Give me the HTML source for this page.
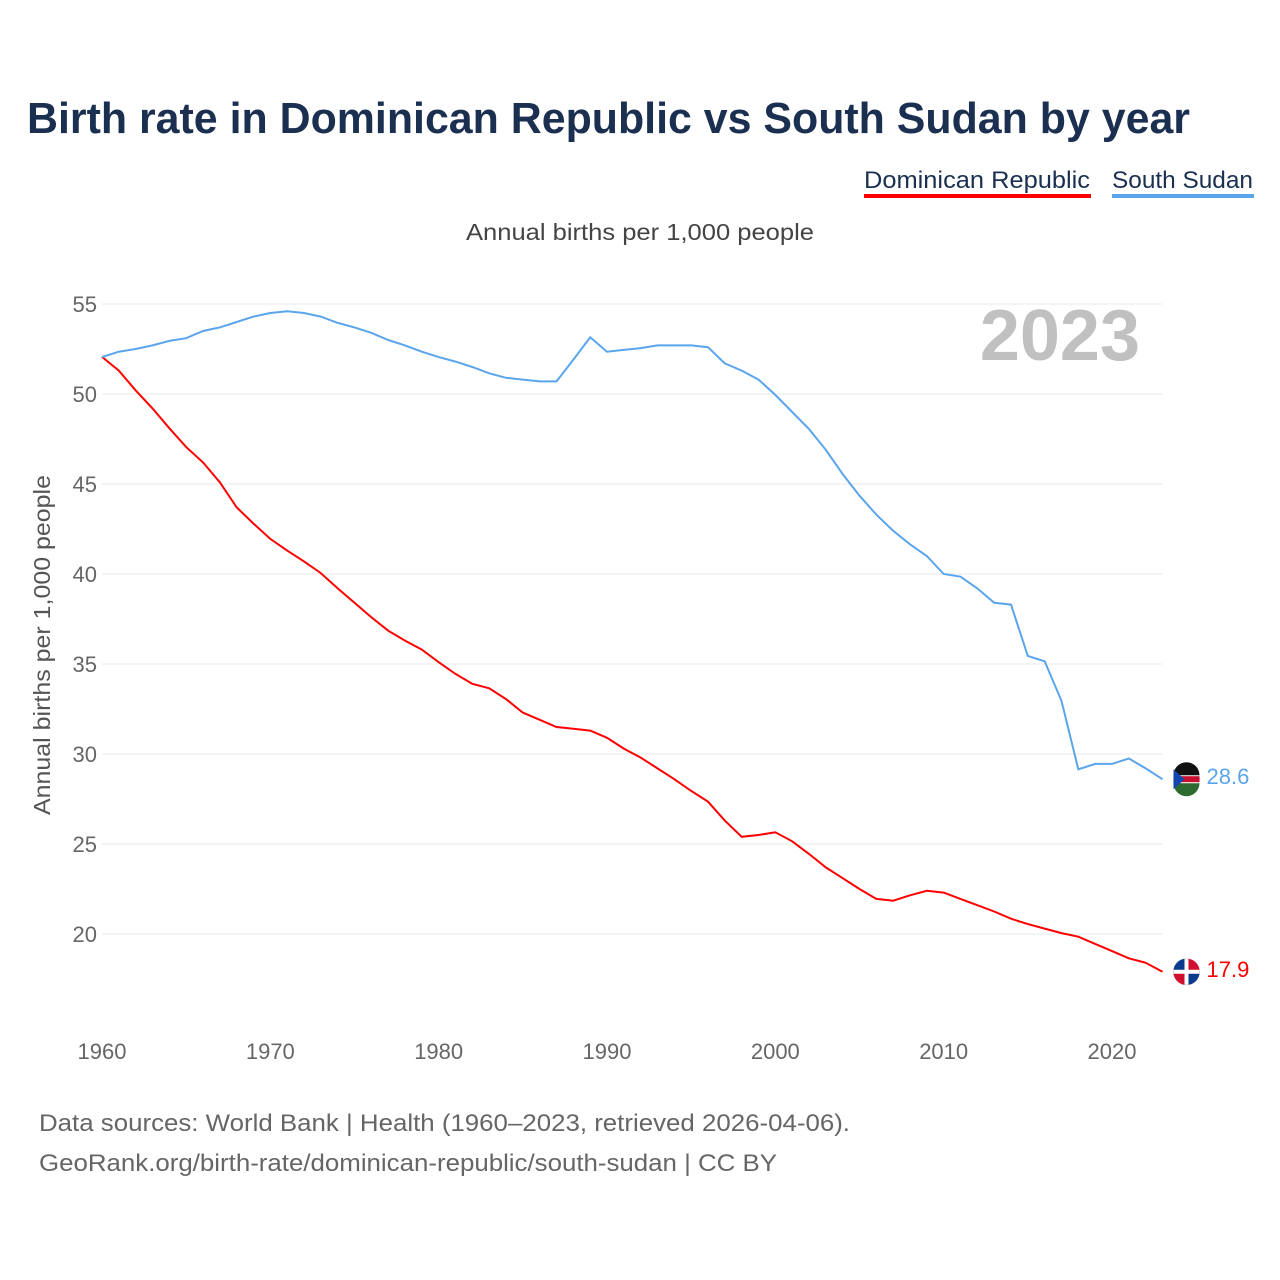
<!DOCTYPE html>
<html><head><meta charset="utf-8">
<style>
body{margin:0;background:#fff;font-family:"Liberation Sans",sans-serif;}
#wrap{position:relative;width:1280px;height:1280px;overflow:hidden;}
</style></head>
<body>
<div id="wrap">
<svg id="chart" width="1280" height="1280">
  <text x="27" y="133" font-size="44" font-weight="bold" fill="#1b3050" textLength="1163" lengthAdjust="spacingAndGlyphs">Birth rate in Dominican Republic vs South Sudan by year</text>
  <g>
    <text x="864" y="188" font-size="24" fill="#1b3050" textLength="226" lengthAdjust="spacingAndGlyphs">Dominican Republic</text>
    <rect x="864" y="194" width="227" height="4" fill="#ff0000"/>
  </g>
  <g>
    <text x="1112" y="188" font-size="24" fill="#1b3050" textLength="141" lengthAdjust="spacingAndGlyphs">South Sudan</text>
    <rect x="1112" y="194" width="142" height="4" fill="#5aa5ec"/>
  </g>
  <text x="466" y="240" font-size="23" fill="#444" textLength="348" lengthAdjust="spacingAndGlyphs">Annual births per 1,000 people</text>
  <text transform="translate(50,815) rotate(-90)" font-size="23" fill="#555" textLength="340" lengthAdjust="spacingAndGlyphs">Annual births per 1,000 people</text>
  <text x="1140" y="360" font-size="72" font-weight="bold" fill="#c0c0c0" text-anchor="end">2023</text>
  <g id="grid"></g><g id="lines"></g><g id="ticks"></g>
  <text x="39" y="1131" font-size="24" fill="#666" textLength="811" lengthAdjust="spacingAndGlyphs">Data sources: World Bank | Health (1960–2023, retrieved 2026-04-06).</text>
  <text x="39" y="1171" font-size="24" fill="#666" textLength="738" lengthAdjust="spacingAndGlyphs">GeoRank.org/birth-rate/dominican-republic/south-sudan | CC BY</text>
</svg>
</div>
<script>
const years = Array.from({length:64},(_,i)=>1960+i);
const dominican = [52.06,51.3,50.2,49.2,48.1,47.05,46.2,45.1,43.7,42.8,41.95,41.3,40.7,40.05,39.2,38.4,37.6,36.85,36.3,35.8,35.1,34.45,33.9,33.65,33.05,32.3,31.9,31.5,31.4,31.3,30.9,30.3,29.8,29.2,28.6,27.95,27.35,26.3,25.4,25.5,25.65,25.15,24.45,23.7,23.1,22.5,21.95,21.85,22.15,22.4,22.3,21.95,21.6,21.25,20.85,20.55,20.3,20.05,19.85,19.45,19.05,18.65,18.4,17.9];
const southSudan = [52.05,52.35,52.5,52.7,52.95,53.1,53.5,53.7,54.0,54.3,54.5,54.6,54.5,54.3,53.95,53.7,53.4,53.0,52.7,52.35,52.05,51.8,51.5,51.15,50.9,50.8,50.7,50.7,51.9,53.15,52.35,52.45,52.55,52.7,52.7,52.7,52.6,51.7,51.3,50.8,49.95,49.0,48.05,46.9,45.55,44.35,43.3,42.4,41.65,41.0,40.0,39.85,39.2,38.4,38.3,35.45,35.15,32.95,29.15,29.45,29.45,29.75,29.2,28.6];
const yTicks = [20,25,30,35,40,45,50,55];
const xTicks = [1960,1970,1980,1990,2000,2010,2020];
const NS="http://www.w3.org/2000/svg";
const xS = y => 102 + (y-1960)*(1010/60);
const yS = v => 304 + (55-v)*18;
function mk(tag,attrs,parent,txt){const e=document.createElementNS(NS,tag);for(const k in attrs)e.setAttribute(k,attrs[k]);if(txt!==undefined)e.textContent=txt;parent.appendChild(e);return e;}
const grid=document.getElementById('grid'),ticks=document.getElementById('ticks'),lines=document.getElementById('lines');
yTicks.forEach(t=>{
  const l=mk('line',{x1:102,x2:1162,y1:yS(t),y2:yS(t),stroke:'#e8e8e8','stroke-width':1},grid);
  
  
  const tx=mk('text',{x:97,y:yS(t)+8,'font-size':22,fill:'#666','text-anchor':'end'},ticks,String(t));
  
  
});
xTicks.forEach(t=>{
  const tx=mk('text',{x:xS(t),y:1059,'font-size':22,fill:'#666','text-anchor':'middle'},ticks,String(t));
  
  
});
function drawLine(vals,color,name){
  const d=vals.map((v,i)=>(i?'L':'M')+xS(years[i]).toFixed(1)+','+yS(v).toFixed(1)).join('');
  const p=mk('path',{d:d,fill:'none',stroke:color,'stroke-width':2},lines);
  
  
  const last=vals[vals.length-1],cx=xS(years[years.length-1])+24,cy=yS(last);
  const c=mk('circle',{cx:cx,cy:cy,r:13,fill:'#fff',stroke:'#ddd'},lines);
  
  
  const lb=mk('text',{x:cx+20,y:cy+5,'font-size':22,fill:color},lines,last.toFixed(1));
  
  
  return [cx,cy];
}
const [dx,dy]=drawLine(dominican,'#ff0000','dominican-republic');
const [sx,sy]=drawLine(southSudan,'#5aa5ec','south-sudan');
const f1=mk('g',{},lines);
mk('path',{d:`M${dx-13},${dy-2}A13,13 0 0 1 ${dx-2},${dy-13}L${dx-2},${dy-2}Z`,fill:'#0b3b8c'},f1);
mk('path',{d:`M${dx+2},${dy-13}A13,13 0 0 1 ${dx+13},${dy-2}L${dx+2},${dy-2}Z`,fill:'#d0102c'},f1);
mk('path',{d:`M${dx-13},${dy+2}A13,13 0 0 0 ${dx-2},${dy+13}L${dx-2},${dy+2}Z`,fill:'#d0102c'},f1);
mk('path',{d:`M${dx+2},${dy+13}A13,13 0 0 0 ${dx+13},${dy+2}L${dx+2},${dy+2}Z`,fill:'#0b3b8c'},f1);
const f2=mk('g',{},lines);
mk('path',{d:`M${sx-13},${sy-4}A13,13 0 0 1 ${sx+13},${sy-4}Z`,fill:'#111'},f2);
mk('rect',{x:sx-13,y:sy-3,width:26,height:6,fill:'#c8102e'},f2);
mk('path',{d:`M${sx-13},${sy+4}A13,13 0 0 0 ${sx+13},${sy+4}Z`,fill:'#2e6b30'},f2);
mk('path',{d:`M${sx-13},${sy-10}L${sx-2},${sy}L${sx-13},${sy+10}Z`,fill:'#0f47af'},f2);
</script>
</body></html>
